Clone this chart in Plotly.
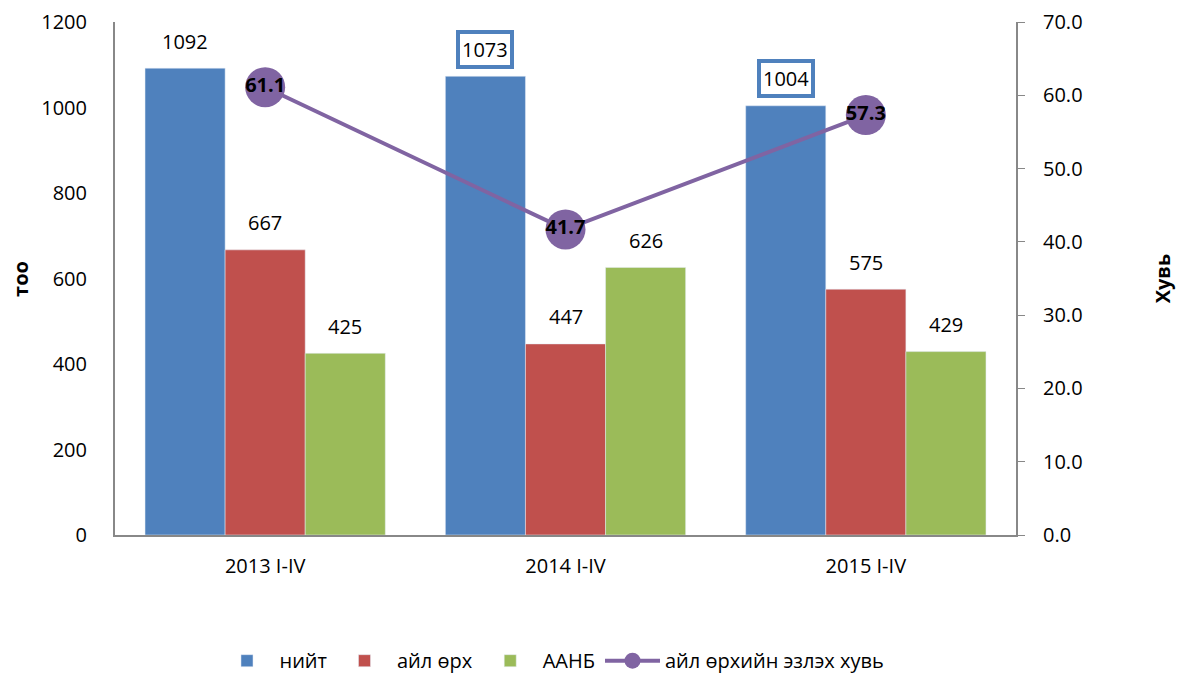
import plotly.graph_objects as go

categories = ["2013 I-IV", "2014 I-IV", "2015 I-IV"]
niit = [1092, 1073, 1004]
ail_orh = [667, 447, 575]
aanb = [425, 626, 429]
huvi = [61.1, 41.7, 57.3]
boxed = [False, True, True]

FONT = "Open Sans"
FS = 20
BLUE, RED, GREEN, PURPLE = "#4F81BD", "#C0504D", "#9BBB59", "#8064A2"

W, H = 1175, 673
ML, MR, MT, MB = 107, 167, 14, 146

fig = go.Figure()
fig.add_bar(x=categories, y=niit, name="нийт", marker_color=BLUE)
fig.add_bar(x=categories, y=ail_orh, name="айл өрх", marker_color=RED)
fig.add_bar(x=categories, y=aanb, name="ААНБ", marker_color=GREEN)
fig.add_scatter(x=categories, y=huvi, name="айл өрхийн эзлэх хувь", yaxis="y2",
                mode="lines+markers+text", line=dict(color=PURPLE, width=4),
                marker=dict(size=40, color=PURPLE),
                text=[f"{v:.1f}" for v in huvi], textposition="middle center",
                textfont=dict(color="black", size=FS, family=FONT, weight="bold"),
                cliponaxis=False)

plot_w = W - ML - MR
bar_w = plot_w / len(categories) * 0.8 / 3
for series, shift in ((niit, -bar_w), (ail_orh, 0), (aanb, bar_w)):
    for i, (c, v) in enumerate(zip(categories, series)):
        ann = dict(x=c, y=v, xref="x", yref="y", text=str(v), showarrow=False,
                   xshift=shift, yanchor="middle", yshift=27,
                   font=dict(color="black", size=FS, family=FONT))
        if series is niit and boxed[i]:
            ann.update(bordercolor=BLUE, borderwidth=4, borderpad=2, bgcolor="white")
        fig.add_annotation(**ann)

fig.add_annotation(x=-0.105, y=0.5, xref="paper", yref="paper", text="<b>тоо</b>",
                   xanchor="center", yanchor="middle",
                   textangle=-90, showarrow=False, font=dict(size=FS, family=FONT, color="black"))
fig.add_annotation(x=1.163, y=0.5, xref="paper", yref="paper", text="<b>Хувь</b>",
                   xanchor="center", yanchor="middle",
                   textangle=-90, showarrow=False, font=dict(size=FS, family=FONT, color="black"))

fig.update_layout(
    width=W, height=H,
    margin=dict(l=ML, r=MR, t=MT, b=MB, autoexpand=False),
    paper_bgcolor="white", plot_bgcolor="white",
    barmode="group", bargap=0.2, bargroupgap=0,
    font=dict(family=FONT, size=FS, color="black"),
    showlegend=True,
    legend=dict(orientation="h", x=0.485, xanchor="center", y=-0.245, yanchor="middle",
                font=dict(size=FS, family=FONT), traceorder="normal", itemwidth=55),
    xaxis=dict(showline=True, linecolor="#888888", linewidth=2, ticks="",
               tickfont=dict(size=FS), showgrid=False, ticklabelstandoff=12),
    yaxis=dict(range=[0, 1200], dtick=200, showline=True, linecolor="#888888", linewidth=2,
               showgrid=False, ticks="", ticklabelstandoff=22, zeroline=False),
    yaxis2=dict(range=[0, 70], dtick=10, tickformat=".1f", overlaying="y", side="right",
                showline=True, linecolor="#888888", linewidth=2, ticks="outside",
                ticklen=7, tickcolor="#888888", showgrid=False, zeroline=False,
                ticklabelstandoff=14),
)

fig.write_html("out.html")
